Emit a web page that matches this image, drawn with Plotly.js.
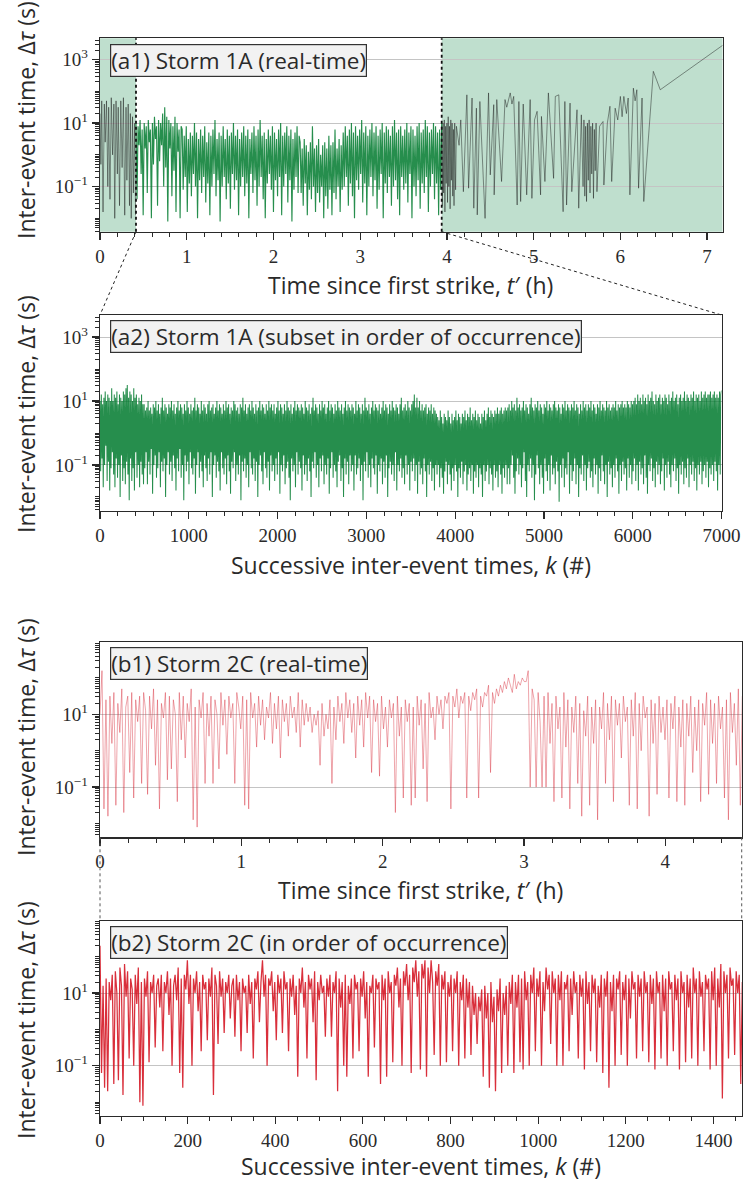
<!DOCTYPE html>
<html><head><meta charset="utf-8">
<script src="https://cdn.plot.ly/plotly-3.0.1.min.js"></script>
<style>html,body{margin:0;padding:0;background:#fff}#chart{width:743px;height:1181px}</style>
</head><body><div id="chart"></div>
<script>
// ---------- DATA (values are log10 of inter-event time in seconds) ----------
// Storm 1A, real-time, events outside the analysed subset (grey, shaded regions)
const a1GrayLeftT = [0.00,0.01,0.02,0.035,0.05,0.06,0.075,0.09,0.10,0.115,0.13,0.145,0.16,0.17,0.185,0.20,0.21,0.225,0.24,0.255,0.27,0.285,0.30,0.31,0.325,0.34,0.35,0.36,0.375,0.385,0.40,0.41];
const a1GrayLeftLog = [1.3,-0.3,1.7,-1.8,1.6,0.4,1.7,-1.0,1.5,-1.4,1.8,0.0,1.6,-2.0,1.7,-0.6,1.5,-1.6,1.7,-0.4,1.8,-1.9,1.5,-0.8,1.6,-1.6,1.3,-2.0,1.2,-1.2,1.0,-1.9];
const a1GrayRightT = [3.94,3.947,3.955,3.962,3.97,3.977,3.985,3.992,4.00,4.007,4.015,4.022,4.03,4.037,4.045,4.052,4.06,4.067,4.075,4.082,4.09,4.10,4.11,4.14,4.16,4.19,4.23,4.25,4.29,4.31,4.34,4.35,4.38,4.44,4.48,4.50,4.54,4.545,4.575,4.63,4.67,4.69,4.73,4.75,4.77,4.81,4.83,4.85,4.88,4.92,4.96,4.98,5.01,5.04,5.08,5.09,5.13,5.17,5.23,5.25,5.29,5.34,5.36,5.38,5.42,5.44,5.50,5.52,5.55,5.57,5.58,5.59,5.60,5.61,5.62,5.63,5.64,5.65,5.66,5.67,5.68,5.69,5.70,5.71,5.72,5.73,5.76,5.80,5.81,5.85,5.88,5.90,5.94,5.97,6.00,6.02,6.04,6.07,6.09,6.11,6.15,6.17,6.19,6.21,6.25,6.27,6.38,6.46,7.18];
const a1GrayRightLog = [0.9,-1.6,1.0,-1.2,1.1,-1.8,0.9,-0.9,1.0,-1.5,1.2,-1.0,0.9,-1.7,1.1,-0.8,1.0,-1.3,0.8,-1.6,1.0,-1.1,0.9,0.3,1.1,-1.16,1.89,-1.05,1.79,-1.68,1.47,-1.89,1.68,-2.0,1.95,-0.63,1.58,-1.26,1.74,-0.84,1.74,1.5,1.95,1.6,1.84,-1.58,1.68,-1.47,1.6,-1.26,1.74,-1.37,1.1,1.37,-1.26,1.21,-0.84,1.95,-0.74,1.84,1.89,-1.79,1.68,-1.58,1.63,-1.16,1.42,-1.68,1.26,-1.0,1.1,-1.3,0.9,-1.47,1.0,-0.8,1.1,-1.2,0.9,-0.6,1.0,-1.37,0.8,-0.5,1.0,-1.16,0.9,1.05,-0.95,1.0,1.53,-0.84,1.47,1.1,1.84,1.2,1.84,1.3,1.79,-1.26,2.1,1.7,2.05,-1.05,1.79,-1.47,2.63,2.05,3.45];
// Storm 1A, analysed subset in real time (green)
const a1SubsetStartH = 0.415, a1SubsetEndH = 3.94;
const a1GreenLog = [1.0,-1.4,0.9,0.3,1.1,-0.6,0.8,-1.9,1.0,0.2,0.9,-1.2,1.1,0.4,0.8,-2.0,1.0,-0.3,1.2,0.5,0.9,-1.6,1.1,-0.2,1.0,0.3,1.3,-1.0,1.5,-0.4,1.2,-2.1,1.1,0.2,1.0,-1.3,0.9,-0.5,1.2,-1.8,1.0,0.1,0.8,-2.0,0.9,
0.8,-1.1,0.6,-0.7,0.9,-1.8,0.5,-0.9,0.7,-1.3,0.6,-0.6,1.0,-1.0,0.7,-2.0,0.5,-0.8,0.8,-1.2,0.6,-0.7,0.9,-1.5,0.4,-0.9,0.7,-1.9,0.6,-1.0,0.8,-0.6,1.1,-1.3,0.5,-0.8,0.7,-2.1,0.6,-1.0,0.9,-0.7,0.5,-1.4,0.8,-0.9,0.6,-1.7,0.7,-0.6,1.0,-1.1,0.6,-0.8,0.8,-1.9,0.5,-1.0,0.7,-0.7,0.9,-1.3,0.6,-0.9,0.8,-2.0,0.5,-0.6,0.7,-1.2,0.9,-0.8,0.6,-1.6,0.8,-1.0,1.1,-0.7,0.6,-1.4,0.7,-2.0,0.5,-0.9,0.8,-0.6,0.6,-1.1,0.9,-1.8,0.7,-0.8,0.5,-1.3,0.8,-0.7,1.0,-1.9,0.6,-1.0,0.7,-0.6,0.9,-1.5,0.6,-0.8,0.8,-2.1,0.5,-1.1,0.7,-0.7,0.9,-1.2,0.6,
0.4,-1.2,0.2,-1.6,0.5,-0.9,0.3,-1.9,0.1,-1.1,0.4,-1.4,0.9,-1.0,0.2,-1.8,0.3,-1.2,0.5,-1.5,0.0,-1.0,0.3,-2.0,0.4,-1.3,0.2,-1.7,0.6,-1.1,0.3,-1.9,0.4,-1.2,0.8,-1.4,0.2,-1.0,0.5,-1.8,0.3,-1.1,
0.7,-1.0,0.9,-0.7,0.6,-1.6,0.8,-0.9,1.0,-1.3,0.7,-2.0,0.9,-0.8,0.6,-1.1,0.8,-0.6,1.1,-1.5,0.7,-0.9,0.9,-1.9,0.6,-1.0,0.8,-0.7,1.0,-1.3,0.7,-0.8,0.9,-1.7,0.6,-1.1,0.8,-0.6,1.0,-2.0,0.7,-0.9,0.9,-1.2,0.8,-0.7,0.6,-1.6,0.9,-1.0,1.1,-0.8,0.7,-1.4,0.8,-1.9,0.9,-0.7,0.6,-1.1,0.8,-0.9,1.0,-1.5,0.7,-0.6,0.9,-2.0,0.8,-1.0,0.6,-1.3,0.9,-0.8,1.0,-1.7,0.7,-0.9,0.8,-1.2,1.1,-0.7,0.9,-1.8,0.7,-1.0,0.8,-0.6,1.0,-1.4,0.9,-0.9,0.7,-1.9,0.8,-1.1,1.0];
// Storm 1A subset, in order of occurrence (k = 0..7000)
const a2Count = 7000;
const a2GreenLog = [1.0,-1.2,1.2,-0.8,0.9,-1.7,1.1,-1.0,1.3,-0.4,1.0,-1.5,1.2,-0.9,1.1,-1.8,1.0,-1.1,1.4,-0.6,1.0,-1.3,1.2,-1.7,1.1,-0.8,1.3,-1.4,0.9,-1.0,1.2,-2.0,1.1,-0.7,1.0,-1.5,1.3,-1.1,1.2,-1.6,
1.4,-0.9,1.5,-1.3,1.1,-2.1,1.3,-0.8,1.2,-1.5,1.0,-1.1,1.4,-1.8,1.1,-0.6,1.2,-1.4,0.9,-1.0,1.1,-1.7,1.0,-0.9,1.2,-1.3,0.9,-1.6,
0.9,-1.1,0.7,-0.6,0.8,-1.6,1.0,-0.9,0.7,-1.3,0.8,-0.5,0.6,-1.9,0.9,-1.0,0.8,-0.7,1.0,-1.4,0.7,-1.1,0.9,-0.6,0.6,-1.7,0.8,-0.9,1.1,-1.2,0.7,-0.8,0.9,-2.0,0.8,-1.0,0.6,-0.6,0.9,-1.3,
0.8,-0.9,1.0,-1.5,0.7,-0.7,0.9,-1.1,0.6,-1.8,0.8,-0.8,1.0,-1.2,0.7,-0.5,0.9,-1.4,0.8,-1.0,0.6,-2.1,0.9,-0.7,0.7,-1.2,1.0,-0.9,0.8,-1.6,0.6,-0.6,0.9,-1.1,0.7,-1.3,0.8,-0.8,1.1,-1.9,
0.7,-1.0,0.9,-0.6,0.8,-1.4,0.6,-0.9,1.0,-1.2,0.7,-1.7,0.9,-0.7,0.8,-1.1,0.6,-1.5,0.9,-0.8,1.0,-1.3,0.7,-0.6,0.8,-2.0,0.9,-1.0,0.6,-0.7,0.8,-1.4,1.0,-0.9,0.7,-1.2,0.9,-1.8,0.8,-0.6,
0.6,-1.1,0.9,-1.3,0.7,-0.8,1.0,-1.6,0.8,-0.7,0.9,-1.2,0.6,-1.9,0.8,-0.9,0.7,-1.1,1.0,-0.6,0.9,-1.5,0.7,-1.0,0.8,-1.3,0.6,-0.7,0.9,-2.1,0.8,-0.9,1.1,-1.2,0.7,-0.8,0.9,-1.4,0.6,-1.0,
0.8,-1.7,0.9,-0.6,0.7,-1.1,1.0,-1.3,0.8,-0.8,0.6,-1.5,0.9,-0.9,0.7,-2.0,0.8,-1.0,1.0,-0.7,0.7,-1.2,0.9,-1.6,0.8,-0.6,0.6,-1.1,0.9,-1.4,0.7,-0.9,1.0,-1.8,0.8,-0.7,0.9,-1.2,0.7,-1.0,
0.9,-1.5,0.6,-0.8,0.8,-1.3,1.0,-0.6,0.7,-1.9,0.9,-1.0,0.8,-1.2,0.6,-0.7,0.9,-1.6,0.7,-1.1,1.0,-0.9,0.8,-1.4,0.7,-2.1,0.9,-0.8,0.6,-1.2,0.8,-1.0,1.0,-1.7,0.7,-0.6,0.9,-1.3,0.8,-0.9,
0.7,-1.1,0.9,-1.8,0.8,-0.7,0.6,-1.3,1.0,-1.0,0.8,-1.5,0.7,-0.8,0.9,-1.2,0.6,-2.0,0.8,-0.9,1.1,-1.1,0.7,-0.6,0.9,-1.4,0.8,-1.0,0.6,-1.7,0.9,-0.8,0.7,-1.2,1.0,-0.7,0.8,-1.6,0.9,-1.0,
0.6,-1.3,0.8,-0.8,1.0,-1.9,0.7,-1.1,0.9,-0.6,0.8,-1.4,0.6,-1.0,0.9,-1.2,0.7,-1.7,1.0,-0.9,0.8,-0.7,0.7,-1.5,0.9,-1.1,0.6,-2.0,0.8,-0.8,1.0,-1.3,0.7,-0.9,0.9,-1.6,0.8,-0.7,0.7,-1.2,
0.9,-1.0,0.8,-1.8,0.6,-0.7,1.0,-1.3,0.7,-1.1,0.9,-0.8,0.8,-1.5,0.6,-1.0,0.9,-2.1,0.7,-0.9,1.1,-1.2,0.8,-0.6,0.7,-1.4,0.9,-1.0,0.6,-1.7,0.8,-0.8,1.0,-1.1,0.7,-1.3,0.9,-0.7,0.8,-1.9,
0.7,-1.0,0.9,-1.2,0.6,-0.8,0.8,-1.6,1.0,-0.9,0.7,-1.4,0.9,-0.7,0.8,-2.0,0.6,-1.1,0.9,-0.9,0.7,-1.3,1.0,-1.0,0.8,-1.5,0.7,-0.6,0.9,-1.8,0.8,-1.0,0.6,-1.2,0.9,-0.8,1.1,-1.4,0.7,-1.1,
0.8,-1.6,0.9,-0.7,0.7,-1.3,1.0,-1.0,0.8,-1.8,0.7,-0.9,
0.9,-1.2,1.0,-0.8,1.2,-1.5,0.8,-1.0,1.1,-1.9,0.8,-0.9,1.0,-1.3,0.7,-1.1,0.9,-1.6,0.7,-0.8,0.8,-1.2,0.9,-2.0,0.6,-1.0,0.8,-1.3,0.7,-0.9,0.9,-1.5,0.6,-1.1,0.8,-1.8,0.7,-1.0,0.6,
-1.3,0.5,-1.0,0.4,-1.7,0.7,-1.1,0.5,-1.4,0.3,-1.9,0.6,-1.2,0.5,-0.9,0.4,-1.6,0.7,-1.0,0.5,-1.3,0.3,-1.8,0.6,-1.1,0.4,-1.5,0.5,-1.0,0.7,-1.2,0.4,-2.0,0.6,-1.1,0.5,-1.4,0.3,-0.9,0.6,
-1.6,0.5,-1.2,0.7,-1.0,0.4,-1.8,0.6,-1.3,0.5,-1.1,0.8,-1.5,0.4,-1.0,0.6,-1.9,0.5,-1.2,0.7,-1.4,0.4,-1.0,0.6,-1.7,0.5,-1.1,0.3,-1.3,0.6,-2.0,0.5,-1.0,0.7,-1.5,0.4,-1.2,0.6,-1.0,0.8,
-1.6,0.5,-1.1,0.7,-1.3,0.6,-1.8,0.5,-1.0,0.7,-1.4,0.6,-1.2,0.8,-1.7,0.6,-1.0,0.7,-1.3,0.8,-1.9,0.6,-1.1,0.7,-1.4,0.8,-1.0,0.7,-1.6,0.8,
-1.1,0.9,-1.6,0.7,-1.0,1.0,-0.7,0.8,-1.4,0.9,-1.9,0.7,-1.2,1.1,-0.8,0.8,-1.3,0.9,-1.0,0.7,-1.7,0.8,-1.1,1.0,-0.6,0.7,-1.5,0.9,-2.0,0.8,-1.0,0.6,-1.2,0.9,-0.8,1.1,-1.4,0.8,-1.0,0.7,
-2.1,0.9,-1.3,0.8,-0.7,1.0,-1.1,0.7,-1.6,0.9,-1.0,0.8,-1.4,0.6,-1.9,0.9,-0.8,0.8,-1.2,1.0,-1.5,0.7,-1.0,0.9,-1.8,0.8,-0.7,0.7,-1.3,0.9,-1.1,1.0,-1.6,0.8,-0.9,0.7,-1.2,0.9,-2.15,0.8,
-1.0,0.6,-1.4,0.9,-0.8,0.8,-1.7,1.0,-1.1,0.7,-1.3,0.9,-0.6,0.8,-1.9,0.7,-1.0,0.9,-1.5,0.8,-1.2,1.0,-0.8,0.7,-1.6,0.9,-1.0,0.8,-2.0,0.6,-1.1,0.9,-1.3,0.7,-0.7,1.0,-1.5,0.8,-1.0,0.9,
-1.8,0.7,-1.1,0.9,-0.9,0.8,-1.4,1.0,-1.2,0.7,-1.7,0.9,-0.8,0.8,-1.3,0.6,-1.0,0.9,-1.9,0.8,-1.1,1.0,-1.5,0.7,-0.7,0.9,-1.2,0.8,-1.6,0.7,-1.0,1.0,-2.0,0.8,-0.9,0.9,-1.3,0.7,-1.1,0.8,
-1.7,0.9,-1.0,0.8,-1.4,1.0,-0.8,0.7,-1.2,0.9,-1.9,0.8,-1.0,0.9,-1.5,1.0,-0.9,0.8,-1.3,0.9,-1.1,0.8,-1.8,1.0,-0.8,0.9,-1.4,0.8,-1.0,1.0,-1.6,0.9,
-1.2,1.0,-0.8,1.1,-1.5,0.9,-1.0,1.2,-1.8,1.0,-0.9,1.1,-1.3,0.9,-1.1,1.2,-1.6,1.0,-0.7,1.1,-1.4,0.9,-1.9,1.2,-1.0,1.0,-1.2,1.1,-0.8,1.3,-1.5,1.0,-1.1,0.9,-1.7,1.2,-0.9,1.0,-1.3,1.1,
-1.0,1.2,-1.6,0.9,-1.2,1.1,-0.8,1.0,-1.8,1.2,-1.0,1.1,-1.4,0.9,-0.9,1.2,-1.3,1.0,-1.7,1.1,-1.0,1.3,-1.2,1.0,-0.8,1.1,-1.5,1.2,-1.1,0.9,-1.9,1.1,-1.0,1.2,-1.3,1.0,-0.9,1.1,-1.6,1.3,
-1.1,1.0,-1.4,1.2,-0.8,1.1,-1.7,1.0,-1.0,1.2,-1.3,1.1,-0.9,1.3,-1.5,1.0,-1.1,1.2,-1.8,1.1,-1.0,1.2,-1.3,1.0,-0.9,1.3,-1.6,1.1,-1.2,1.2,-1.0,1.3,-1.4,1.1,-0.9,1.2,-1.7,1.2,-1.1,1.3,
-1.3,1.1,-1.0,1.2,-1.5,1.3,-0.9,1.1,-1.2,1.2,-1.8,1.1,-1.0,1.3,-1.3,1.2,1.33];
// Storm 2C, real time (hours)
const b1EndH = 4.545;
const b1RedLog = [1.0,2.2,-1.6,1.4,-1.8,1.5,0.2,1.6,-1.5,1.3,0.5,1.7,-1.7,1.2,1.5,-0.6,1.6,-1.3,1.4,0.8,1.5,-0.9,1.6,1.1,-1.2,1.5,0.6,1.7,-0.4,1.4,-1.6,1.3,0.9,1.6,-0.8,
1.5,-0.5,1.4,1.0,-1.4,1.6,0.3,1.5,-0.2,1.3,0.8,1.7,-1.9,1.2,-2.1,1.4,0.9,1.6,-0.9,1.3,0.4,1.5,-0.9,1.4,1.0,-0.5,1.6,0.7,1.4,-0.1,1.5,0.9,1.3,-0.9,1.6,
1.2,0.6,1.5,-1.5,1.4,-1.6,1.6,0.9,1.3,0.1,1.5,0.7,1.4,0.3,1.2,0.9,1.6,0.2,1.3,0.6,1.5,-0.2,1.4,0.8,1.3,0.4,1.5,0.9,1.2,0.5,1.6,0.1,1.4,0.7,1.3,
0.8,1.2,0.5,1.0,0.7,1.1,-0.4,1.3,0.4,1.0,0.6,1.4,-0.9,1.2,0.3,1.5,0.8,1.3,0.2,1.6,0.9,1.4,0.5,1.3,-0.2,1.5,0.7,1.4,0.1,1.6,0.9,1.5,-0.6,1.4,0.8,
1.3,-0.7,1.5,0.6,1.2,0.1,1.4,0.9,1.3,-1.7,1.5,0.4,1.2,-1.3,1.4,0.8,1.3,-1.5,1.2,-1.3,1.5,0.7,1.4,-0.5,1.3,-1.4,1.6,0.9,1.2,0.3,1.5,1.0,1.4,0.6,1.5,
1.3,1.6,-1.6,1.5,1.2,1.7,0.9,1.5,1.3,1.6,-1.3,1.5,1.1,1.6,1.4,1.7,-1.3,1.5,1.2,1.6,1.5,1.8,-0.6,1.6,1.3,1.7,1.5,1.8,1.6,1.9,1.7,2.0,1.8,1.6,2.1,1.7,1.9,1.8,2.0,1.9,
1.9,2.2,-1.0,1.7,1.4,-1.0,1.6,0.8,-1.0,1.5,-1.0,1.6,0.2,1.3,-1.4,1.5,0.6,1.2,-1.3,1.6,0.1,1.4,-1.6,1.2,0.5,1.5,-0.9,1.3,-1.8,1.1,0.4,1.5,-1.5,1.2,0.2,
1.4,-1.9,1.2,0.6,1.6,-0.9,1.3,0.3,1.5,-1.4,1.4,0.7,1.3,-0.2,1.5,0.8,1.2,-1.5,1.4,0.4,1.6,-1.6,1.3,0.0,1.5,0.9,1.2,-1.8,1.4,0.2,1.3,-1.2,1.5,0.5,1.2,
0.3,1.4,-1.3,1.3,0.6,1.5,-1.4,1.2,0.1,1.4,-1.5,1.3,0.4,1.5,-0.6,1.2,0.0,1.4,-1.4,1.3,0.7,1.6,-1.2,1.4,0.2,1.3,-0.9,1.5,0.6,1.2,-1.3,1.4,-1.9,1.6,0.5,1.3,-0.4,1.7,-1.5,1.5];
// Storm 2C, in order of occurrence (k)
const b2Count = 1466;
const b2RedLog = [2.3,-1.2,1.2,-1.6,1.4,-1.7,1.3,0.8,1.5,-1.5,1.6,1.0,-1.4,1.7,1.2,-1.8,1.8,0.9,1.6,-0.8,1.4,1.1,-1.0,1.5,0.7,1.7,-2.0,1.3,-2.1,1.4,
0.9,1.6,-0.9,1.3,1.0,1.5,-0.5,1.2,1.4,0.6,1.5,-0.6,1.3,1.0,1.6,0.4,1.4,-1.0,1.2,1.5,0.8,1.7,-1.2,1.4,-1.6,1.5,1.1,1.9,0.7,1.5,
-1.0,1.4,1.0,1.6,0.5,1.3,-0.6,1.5,1.1,1.3,-0.3,1.4,0.9,1.7,-1.8,1.5,1.2,-0.4,1.6,0.9,1.4,-0.1,1.3,1.0,1.5,0.3,1.2,1.4,-0.2,1.5,
0.8,1.3,-0.6,1.4,1.0,1.2,-0.1,1.5,0.7,1.3,-0.8,1.4,1.1,1.6,0.2,1.3,1.9,0.9,1.5,-1.0,1.4,1.2,1.6,0.5,1.3,-0.3,1.5,1.0,1.4,-0.1,
1.6,1.1,1.3,-0.6,1.4,0.9,1.5,0.4,1.2,-1.3,1.4,1.0,1.7,0.6,1.3,-0.8,1.5,1.1,1.4,0.2,1.6,-1.4,1.3,0.8,1.5,1.0,1.2,-0.2,1.4,0.9,
1.5,-0.2,1.3,1.0,1.6,-1.7,1.4,0.6,1.3,-1.0,1.5,-1.3,1.2,0.7,1.4,-0.8,1.5,1.1,1.3,-0.6,1.4,0.9,1.6,0.3,1.3,-1.3,1.2,1.0,1.5,-0.5,
1.4,1.1,1.3,-1.5,1.5,0.8,1.4,-1.3,1.6,1.0,1.3,-0.9,1.5,1.2,1.7,0.6,1.4,-1.0,1.6,1.2,1.8,0.8,1.5,-1.2,1.7,1.3,1.9,0.9,1.6,-1.1,
1.8,1.4,1.9,-1.3,1.7,1.0,1.9,1.3,-0.7,1.6,1.2,1.8,-1.0,1.5,1.1,1.6,-0.9,1.3,0.9,1.5,-0.6,1.4,1.0,1.6,-1.0,1.3,0.8,1.5,-0.8,1.4,
0.6,1.3,-0.7,1.2,0.4,1.0,-0.4,0.9,0.5,1.1,-1.3,1.2,0.3,1.0,-1.6,1.3,0.2,0.9,-1.7,1.1,0.5,1.4,-1.2,1.0,0.4,1.2,-1.0,1.3,0.7,1.5,
-1.2,1.3,0.6,1.5,-0.9,1.4,-1.1,1.6,0.8,1.3,-1.0,1.5,1.0,1.7,-0.6,1.4,0.9,1.6,-1.0,1.3,0.5,1.7,1.1,1.5,-0.4,1.6,1.0,1.4,-1.0,1.5,
0.8,1.6,-1.0,1.3,1.1,1.5,-0.6,1.4,0.4,1.6,1.0,1.3,-0.8,1.5,0.9,1.4,-1.1,1.6,0.7,1.3,-0.6,1.5,1.0,1.4,-0.9,1.2,0.6,1.5,-1.2,1.4,
0.9,1.6,-1.6,1.3,0.5,1.5,-1.0,1.4,1.1,1.6,-0.7,1.3,0.8,1.5,-1.0,1.4,0.3,1.6,1.1,1.3,-0.8,1.5,0.9,1.4,-0.6,1.6,1.0,1.3,-0.9,1.5,
0.7,1.4,-1.1,1.6,1.0,1.3,-0.8,1.5,0.5,1.4,-1.0,1.6,1.1,1.3,-0.6,1.5,0.8,1.4,-1.1,1.6,1.0,1.3,-0.9,1.5,0.6,1.4,-0.8,1.7,1.0,1.4,
-1.0,1.6,0.9,1.3,-0.6,1.5,1.1,1.4,-1.1,1.6,0.8,1.7,-1.0,1.4,0.6,1.8,-1.9,1.6,1.0,1.5,-0.8,1.7,1.2,1.4,-0.7,1.6,1.0,1.5,-1.5,1.3];

const yTickVals = [0.1, 10, 1000];
const yTickText = ['10<sup>−1</sup>', '10<sup>1</sup>', '10<sup>3</sup>'];
const panelLabels = ['(a1) Storm 1A (real-time)', '(a2) Storm 1A (subset in order of occurrence)', '(b1) Storm 2C (real-time)', '(b2) Storm 2C (in order of occurrence)'];
const xTitles = ['Time since first strike, <i>t</i>′ (h)', 'Successive inter-event times, <i>k</i> (#)'];
const yTitle = 'Inter-event time, Δ<i>τ</i> (s)';

// ---------- LAYOUT ----------
const W = 743, H = 1181;
const px = v => v / W, py = v => 1 - v / H;
const box = {
  a1: {x: [px(100), px(722.7)], y: [py(231.7), py(38.3)], xr: [0, 7.18], yr: [-2.42, 3.67]},
  a2: {x: [px(100), px(721.5)], y: [py(510.7), py(315)], xr: [0, a2Count], yr: [-2.43, 3.69]},
  b1: {x: [px(100), px(742.3)], y: [py(837.3), py(642.3)], xr: [0, b1EndH], yr: [-2.38, 2.98]},
  b2: {x: [px(100), px(742.3)], y: [py(1116), py(921)], xr: [0, b2Count], yr: [-2.38, 2.98]}
};
const pow = arr => arr.map(v => Math.pow(10, v));
const serif = "'Liberation Serif', 'Times New Roman', serif";
const sans = "'Open Sans', sans-serif";
const ink = '#2a2a2a';

const minorLog = [];
for (let e = -3; e <= 3; e++) for (let m = 1; m <= 9; m++) minorLog.push(m * Math.pow(10, e));

function xax(b, dtick, minorD, anchor) {
  return {domain: b.x, range: b.xr, anchor, tickmode: 'linear', tick0: 0, dtick,
    ticks: 'outside', ticklen: 7, tickwidth: 1.2, tickcolor: ink,
    minor: {tickmode: 'linear', tick0: 0, dtick: minorD, ticks: 'outside', ticklen: 4, tickwidth: 1, tickcolor: ink, showgrid: false},
    showline: true, mirror: true, linecolor: ink, linewidth: 1.3, showgrid: false, zeroline: false,
    tickfont: {family: serif, size: 19, color: ink}, fixedrange: true};
}
function yax(b, anchor) {
  return {type: 'log', domain: b.y, range: b.yr, anchor, tickmode: 'array', tickvals: yTickVals, ticktext: yTickText,
    ticks: 'outside', ticklen: 7, tickwidth: 1.2, tickcolor: ink,
    minor: {tickmode: 'array', tickvals: minorLog, ticks: 'outside', ticklen: 4, tickwidth: 1, tickcolor: ink, showgrid: false},
    showline: true, mirror: true, linecolor: ink, linewidth: 1.3, showgrid: true, gridcolor: '#c4c4c4', gridwidth: 1, zeroline: false,
    tickfont: {family: serif, size: 19, color: ink}, fixedrange: true};
}

const traces = [
  {x: a1GrayLeftT, y: pow(a1GrayLeftLog), xaxis: 'x', yaxis: 'y', mode: 'lines', line: {color: 'rgba(20,20,20,0.5)', width: 0.9, simplify: false}},
  {x: a1GrayRightT, y: pow(a1GrayRightLog), xaxis: 'x', yaxis: 'y', mode: 'lines', line: {color: 'rgba(20,20,20,0.5)', width: 0.9, simplify: false}},
  {y: pow(a1GreenLog), x0: a1SubsetStartH, dx: (a1SubsetEndH - a1SubsetStartH) / (a1GreenLog.length - 1), xaxis: 'x', yaxis: 'y', mode: 'lines', line: {color: 'rgba(0,122,46,0.85)', width: 1.15, simplify: false}},
  {y: pow(a2GreenLog), x0: 0, dx: a2Count / (a2GreenLog.length - 1), xaxis: 'x2', yaxis: 'y2', mode: 'lines', line: {color: 'rgba(0,122,46,0.85)', width: 1.05, simplify: false}},
  {y: pow(b1RedLog), x0: 0, dx: b1EndH / (b1RedLog.length - 1), xaxis: 'x3', yaxis: 'y3', mode: 'lines', line: {color: 'rgba(215,40,55,0.42)', width: 1, simplify: false}},
  {y: pow(b2RedLog), x0: 0, dx: b2Count / (b2RedLog.length - 1), xaxis: 'x4', yaxis: 'y4', mode: 'lines', line: {color: 'rgba(212,18,32,0.88)', width: 1.25, simplify: false}}
];

// paper x of a real-time value on a1
const a1PaperX = t => box.a1.x[0] + (t - box.a1.xr[0]) / (box.a1.xr[1] - box.a1.xr[0]) * (box.a1.x[1] - box.a1.x[0]);

const shapes = [
  {type: 'rect', xref: 'x', yref: 'y domain', x0: box.a1.xr[0], x1: a1SubsetStartH, y0: 0, y1: 1, fillcolor: 'rgba(0,128,60,0.25)', line: {width: 0}, layer: 'below'},
  {type: 'rect', xref: 'x', yref: 'y domain', x0: a1SubsetEndH, x1: box.a1.xr[1], y0: 0, y1: 1, fillcolor: 'rgba(0,128,60,0.25)', line: {width: 0}, layer: 'below'},
  {type: 'line', xref: 'x', yref: 'y domain', x0: a1SubsetStartH, x1: a1SubsetStartH, y0: 0, y1: 1, line: {color: '#111', width: 1.8, dash: 'dot'}},
  {type: 'line', xref: 'x', yref: 'y domain', x0: a1SubsetEndH, x1: a1SubsetEndH, y0: 0, y1: 1, line: {color: '#111', width: 1.8, dash: 'dot'}},
  {type: 'line', xref: 'paper', yref: 'paper', x0: a1PaperX(a1SubsetStartH), y0: box.a1.y[0], x1: box.a2.x[0], y1: box.a2.y[1], line: {color: '#222', width: 1, dash: 'dot'}},
  {type: 'line', xref: 'paper', yref: 'paper', x0: a1PaperX(a1SubsetEndH), y0: box.a1.y[0], x1: box.a2.x[1], y1: box.a2.y[1], line: {color: '#222', width: 1, dash: 'dot'}},
  {type: 'line', xref: 'paper', yref: 'paper', x0: box.b1.x[0], y0: box.b1.y[0], x1: box.b2.x[0], y1: box.b2.y[1], line: {color: '#555', width: 1, dash: 'dot'}},
  {type: 'line', xref: 'paper', yref: 'paper', x0: box.b1.x[1] - 0.0008, y0: box.b1.y[0], x1: box.b2.x[1] - 0.0008, y1: box.b2.y[1], line: {color: '#555', width: 1, dash: 'dot'}}
];

const labelFont = {family: sans, size: 22.5, color: ink};
const titleFont = {family: sans, size: 23, color: ink};
const ann = [];
const keys = ['a1', 'a2', 'b1', 'b2'];
const labelTop = [44, 320, 647, 926];
keys.forEach((k, i) => {
  ann.push({text: panelLabels[i], xref: 'paper', yref: 'paper', x: px(110), y: py(labelTop[i]), xanchor: 'left', yanchor: 'top', showarrow: false,
    bgcolor: '#f2f2f2', bordercolor: '#333', borderwidth: 1.2, borderpad: 0, font: labelFont});
});
const yTitleCenters = [120, 414, 737, 1020];
yTitleCenters.forEach(c => ann.push({text: yTitle, xref: 'paper', yref: 'paper', x: px(26), y: py(c), textangle: -90, showarrow: false, font: titleFont, xanchor: 'center', yanchor: 'middle'}));
const xTitlePos = [[411, 285, 0], [411, 565, 1], [421, 890, 0], [421, 1166, 1]];
xTitlePos.forEach(p => ann.push({text: xTitles[p[2]], xref: 'paper', yref: 'paper', x: px(p[0]), y: py(p[1]), showarrow: false, font: titleFont, xanchor: 'center', yanchor: 'middle'}));

const layout = {
  width: W, height: H, margin: {l: 0, r: 0, t: 0, b: 0}, paper_bgcolor: '#fff', plot_bgcolor: 'rgba(0,0,0,0)', showlegend: false,
  xaxis: xax(box.a1, 1, 0.2, 'y'), yaxis: yax(box.a1, 'x'),
  xaxis2: xax(box.a2, 1000, 200, 'y2'), yaxis2: yax(box.a2, 'x2'),
  xaxis3: xax(box.b1, 1, 0.2, 'y3'), yaxis3: yax(box.b1, 'x3'),
  xaxis4: xax(box.b2, 200, 50, 'y4'), yaxis4: yax(box.b2, 'x4'),
  shapes, annotations: ann
};
Plotly.newPlot('chart', traces, layout, {staticPlot: true, displayModeBar: false});
</script></body></html>
